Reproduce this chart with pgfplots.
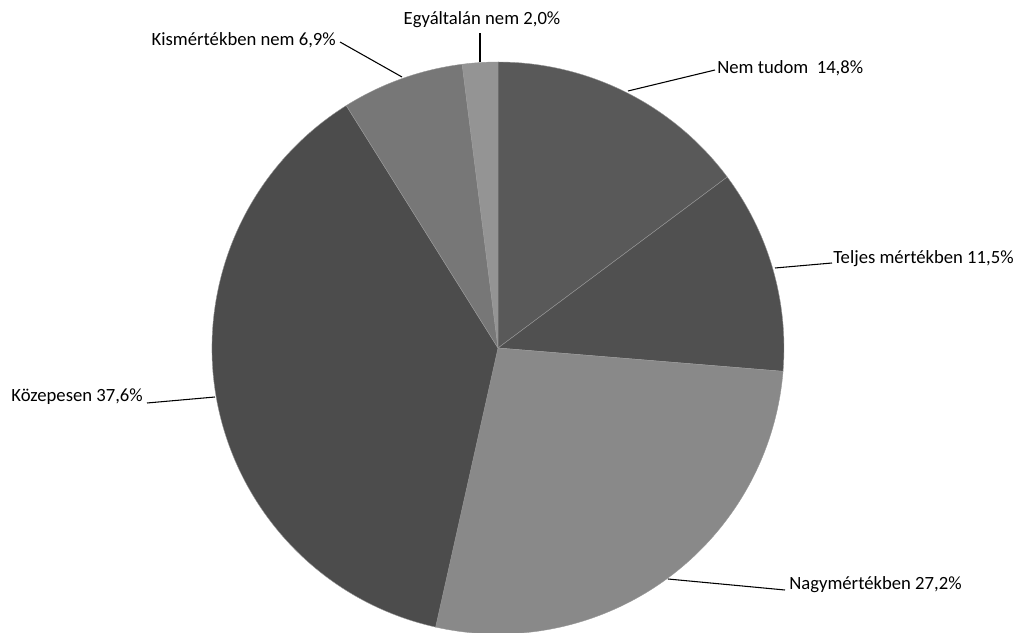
\documentclass[border=0pt]{standalone}
\usepackage{pgfplots}
\pgfplotsset{compat=1.18}
\usepackage{pgfplotstable}
\usepackage{fontspec}
\setmainfont{Carlito}
\definecolor{c0}{RGB}{89,89,89}
\definecolor{c1}{RGB}{80,80,80}
\definecolor{c2}{RGB}{137,137,137}
\definecolor{c3}{RGB}{76,76,76}
\definecolor{c4}{RGB}{119,119,119}
\definecolor{c5}{RGB}{148,148,148}
\pgfplotstableread[col sep=comma]{
label,value
Nem tudom,14.8
Teljes mértékben,11.5
Nagymértékben,27.2
Közepesen,37.6
Kismértékben nem,6.9
Egyáltalán nem,2.0
}\piedata
\def\cum{0}
\pgfplotsforeachungrouped \i in {0,...,5}{%
  \pgfplotstablegetelem{\i}{value}\of\piedata
  \let\v\pgfplotsretval
  \pgfmathsetmacro\a{90-3.6*\cum}%
  \pgfmathsetmacro\b{90-3.6*(\cum+\v)}%
  \expandafter\xdef\csname sa\i\endcsname{\a}%
  \expandafter\xdef\csname sb\i\endcsname{\b}%
  \pgfmathsetmacro\cum{\cum+\v}%
  \xdef\cum{\cum}%
}
\def\R{214.5pt}
\newcommand\lf{\fontsize{14}{16.8}\selectfont}
\begin{document}
\begin{tikzpicture}
\begin{axis}[
  scale only axis, width=765pt, height=474pt,
  xmin=0, xmax=1020, ymin=0, ymax=632,
  hide axis, clip=true,
]
\pgfplotsinvokeforeach{0,...,5}{
  \fill[c#1, draw=gray!80, line width=0.3pt]
    (axis cs:498,284) -- ++(\csname sa#1\endcsname:\R)
    arc[start angle=\csname sa#1\endcsname, end angle=\csname sb#1\endcsname, radius=\R] -- cycle;
}
% leader lines
\draw[black, line width=0.8pt] (axis cs:628,541) -- (axis cs:715,562);
\draw[black, line width=0.8pt] (axis cs:775,364) -- (axis cs:832,369);
\draw[black, line width=0.8pt] (axis cs:668,53) -- (axis cs:785,42);
\draw[black, line width=0.8pt] (axis cs:215,235) -- (axis cs:147,229);
\draw[black, line width=0.8pt] (axis cs:402,555) -- (axis cs:340,590);
\draw[black, line width=0.8pt] (axis cs:480,570) -- (axis cs:480,599);
% labels
\node[anchor=west, inner sep=0pt, font=\lf] at (axis cs:717,564) {Nem tudom\ \ 14,8\%};
\node[anchor=west, inner sep=0pt, font=\lf] at (axis cs:833,373) {Teljes mértékben 11,5\%};
\node[anchor=west, inner sep=0pt, font=\lf] at (axis cs:789,47) {Nagymértékben 27,2\%};
\node[anchor=east, inner sep=0pt, font=\lf] at (axis cs:143,235) {Közepesen 37,6\%};
\node[anchor=east, inner sep=0pt, font=\lf] at (axis cs:336,592) {Kismértékben nem 6,9\%};
\node[anchor=center, inner sep=0pt, font=\lf] at (axis cs:482,612) {Egyáltalán nem 2,0\%};
\end{axis}
\pgfresetboundingbox
\path[use as bounding box] (current axis.south west) rectangle (current axis.north east);
\end{tikzpicture}
\end{document}
